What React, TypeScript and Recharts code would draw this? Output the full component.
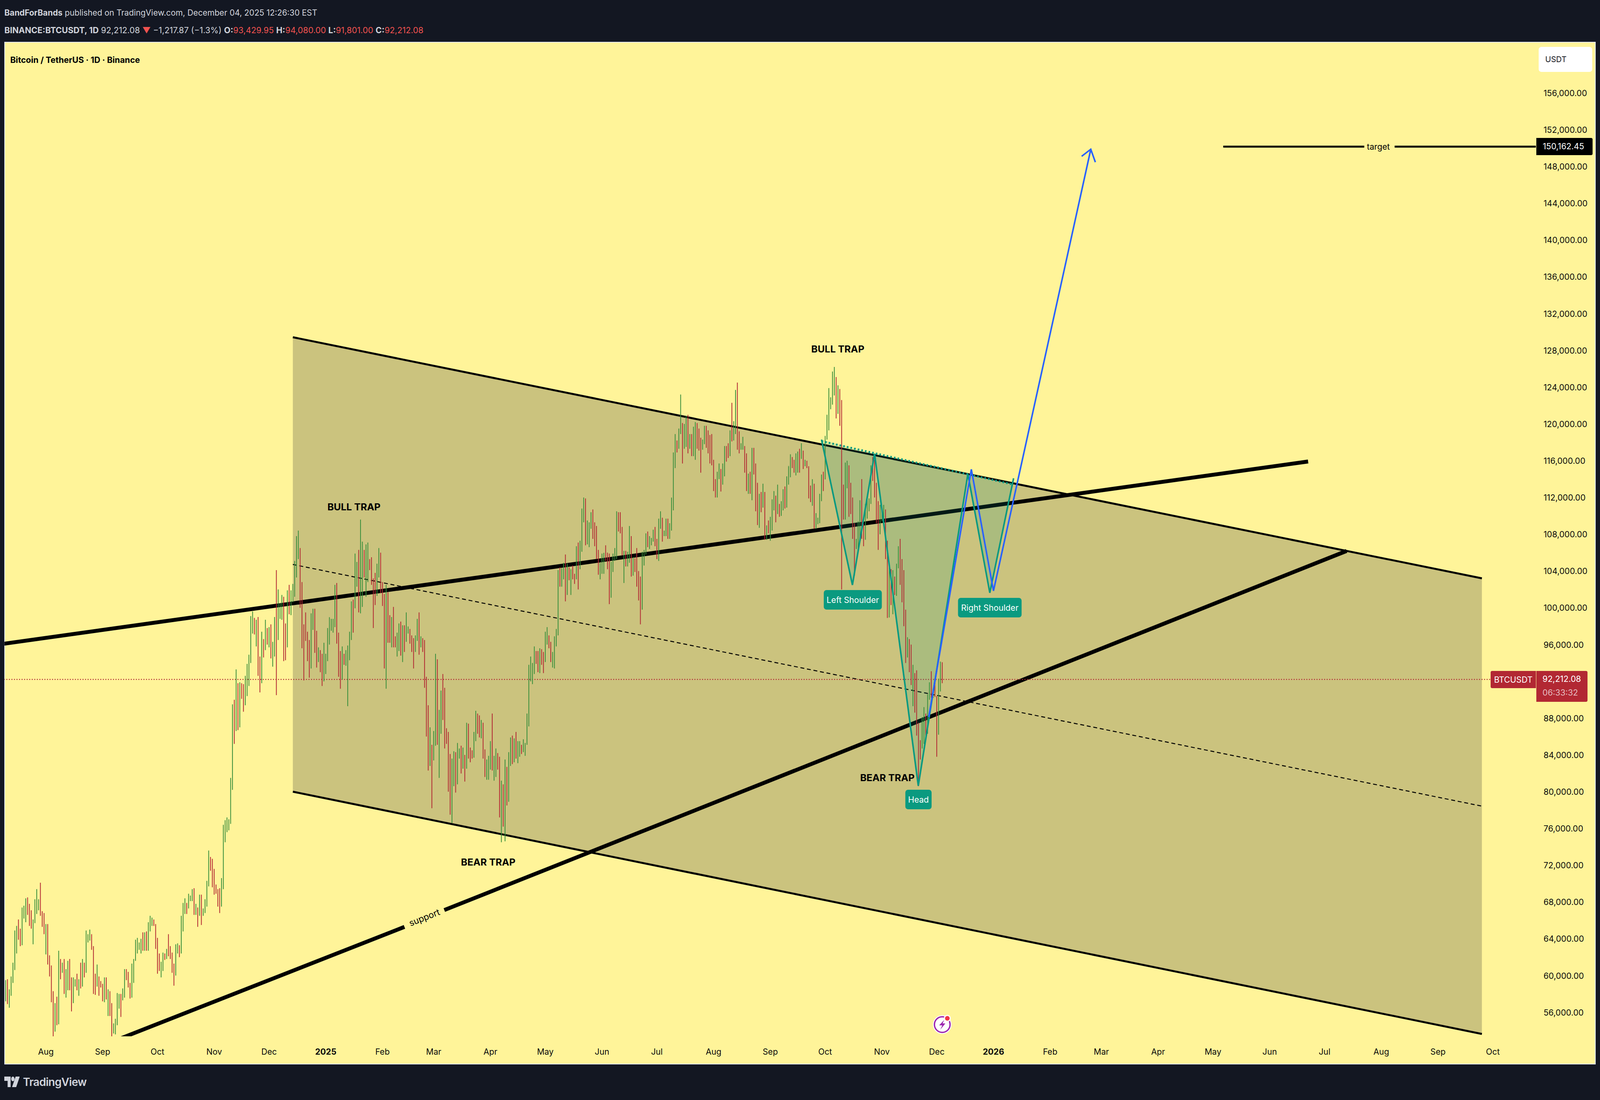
import React from 'react';
import { ComposedChart, Bar, Line, Area, XAxis, YAxis, ReferenceDot } from 'recharts';

// daily BTCUSDT candles, thousands of USDT, first row is 10 Jul 2024 (day -22, day 0 = 1 Aug 2024)
const FIRST_DAY = -22;

const opens: number[] = [
  57.7,58.0,57.3,57.9,59.2,60.8,64.7,65.0,64.1,63.9,66.7,67.1,68.2,67.5,65.9,65.4,65.8,67.9,68.0,68.2,66.8,66.2,
  64.6,65.4,61.4,60.7,58.1,54.0,56.0,55.0,61.7,60.8,60.9,58.7,59.3,60.6,58.7,57.5,58.9,59.5,58.4,59.5,59.0,61.2,60.4,64.0,64.2,64.3,62.9,59.5,59.0,59.4,59.1,
  58.97,57.3,59.1,57.5,57.97,56.2,53.95,54.2,54.9,57.3,57.6,57.3,58.1,60.5,60.0,59.1,58.2,60.3,61.6,62.9,63.2,63.3,63.6,63.3,64.3,63.1,65.2,65.8,65.9,65.6,
  63.3,60.8,60.6,60.75,62.1,62.05,62.8,62.2,62.1,60.6,60.3,62.4,63.2,62.85,66.0,67.0,67.6,67.4,68.4,68.4,69.0,67.4,67.4,66.6,68.2,66.6,67.0,68.0,69.9,72.7,72.3,
  70.3,69.5,69.3,68.7,67.8,69.4,75.6,75.9,76.5,76.7,80.4,88.7,87.9,90.5,87.4,91.1,90.6,89.8,90.5,92.3,94.3,98.3,98.9,97.8,98.0,93.0,91.96,95.96,95.6,97.5,
  96.4,97.2,95.9,96.0,98.6,97.0,99.9,99.9,101.1,97.3,96.6,101.1,100.0,101.4,101.4,104.4,106.0,106.1,100.2,97.5,97.3,97.2,95.2,94.9,98.7,99.4,95.8,94.2,95.2,93.6,92.8,
  93.6,94.6,96.9,98.1,98.2,98.3,102.1,96.9,95.0,92.5,94.7,94.5,94.5,94.5,96.5,100.5,99.99,104.1,104.4,101.3,102.0,106.1,103.7,103.9,104.8,104.7,102.6,102.1,101.3,103.7,104.7,
  102.4,100.6,97.7,101.3,97.8,96.6,96.6,96.5,96.4,96.5,97.4,95.7,97.9,96.6,97.5,97.6,96.1,95.8,95.5,96.6,98.3,96.1,96.6,96.3,91.6,88.6,83.9,84.7,
  84.35,86.0,94.3,86.1,87.2,90.6,89.9,86.7,86.2,80.7,78.6,82.9,83.7,81.1,83.98,84.3,82.6,84.0,82.7,86.9,84.2,84.0,83.8,86.1,87.5,87.4,86.9,87.2,84.4,82.4,82.4,
  82.5,85.2,82.5,83.1,83.8,83.5,78.4,79.1,76.3,82.6,79.6,83.4,85.3,83.7,84.5,83.6,84.0,84.9,84.5,85.1,85.2,87.5,93.4,93.7,93.9,94.7,94.6,93.8,94.9,94.3,
  94.2,96.5,96.9,95.9,94.3,94.7,96.8,97.0,103.3,103.0,104.1,104.2,102.8,104.2,103.5,103.8,103.5,103.1,106.5,105.6,106.8,109.6,111.7,107.3,107.8,109.0,109.4,108.9,107.8,105.6,103.98,
  104.6,105.7,105.9,105.4,104.7,101.6,104.4,105.6,105.7,110.3,110.2,108.6,105.9,106.0,105.4,105.6,106.8,104.6,104.9,104.6,103.3,102.1,100.96,105.4,106.0,107.3,107.0,107.1,107.3,108.4,
  107.1,105.7,108.8,109.6,108.0,108.2,109.2,108.3,108.95,111.3,115.9,117.5,117.4,119.1,120.0,117.8,118.6,119.2,117.6,118.0,117.3,117.4,119.95,118.8,118.4,117.6,117.9,119.4,118.1,117.9,117.8,
  115.8,113.3,112.5,114.2,115.0,114.1,115.0,117.5,116.7,116.5,119.3,118.7,120.2,123.3,118.3,117.4,117.5,117.5,116.2,112.9,114.3,112.5,116.9,115.4,113.5,110.1,111.8,111.3,112.6,108.4,108.8,
  108.2,109.2,111.2,112.1,110.7,110.7,110.2,111.2,112.1,111.5,113.96,115.5,116.0,115.95,115.3,115.3,116.8,116.5,117.0,115.6,115.7,115.3,112.7,112.0,113.3,108.99,109.6,109.6,112.2,114.4,
  114.0,118.6,120.5,122.2,122.4,123.5,124.7,121.4,123.3,121.7,113.0,110.8,115.2,115.3,113.0,110.8,108.2,106.4,107.2,108.7,110.5,108.4,107.6,110.1,111.0,111.6,114.6,114.1,113.0,110.0,108.3,
  109.6,110.1,110.5,106.6,101.5,103.9,101.3,103.3,102.3,104.7,106.0,103.1,101.7,99.7,94.6,95.6,94.3,92.2,92.7,91.5,86.6,85.1,84.7,86.8,88.3,87.4,90.5,91.3,90.9,90.9,
  90.4,86.3,91.3,93.43,
];

const highs: number[] = [
  59.5,59.6,58.5,59.9,61.4,64.9,65.4,66.1,65.1,67.4,67.6,68.4,68.5,67.8,67.1,66.1,68.3,69.4,68.3,70.1,67.0,66.8,
  65.6,65.6,62.2,61.1,58.3,57.0,57.7,62.7,61.8,61.4,61.8,60.7,61.6,61.8,59.8,59.8,59.6,60.2,59.6,61.4,61.8,61.4,64.9,64.5,65.0,64.5,63.2,60.2,61.2,59.9,59.4,
  59.1,59.8,59.8,58.5,58.3,57.0,54.8,55.3,58.1,58.0,58.0,58.6,60.7,60.7,60.4,59.2,61.3,61.8,63.9,64.1,63.6,64.0,64.7,64.7,64.8,65.8,66.5,66.3,66.1,65.6,
  64.1,62.4,61.5,62.5,62.4,62.9,64.5,63.2,62.5,61.3,63.4,63.5,63.3,66.5,67.9,68.4,67.9,68.9,68.7,69.4,69.5,67.8,67.4,68.8,68.8,67.3,68.3,70.3,73.6,72.9,72.7,
  71.6,69.9,69.4,69.5,70.6,76.4,76.9,77.2,77.0,81.5,89.5,90.0,93.3,91.8,91.9,91.8,91.7,92.6,93.9,94.9,99.1,99.6,98.9,98.7,99.0,94.7,97.4,96.6,98.7,97.8,
  97.9,98.2,96.3,99.0,104.1,102.0,100.5,101.4,101.2,98.3,101.9,102.5,101.9,102.6,105.1,107.8,108.4,106.5,102.8,98.2,99.5,97.4,96.5,99.4,99.9,99.9,97.5,95.7,95.4,95.0,96.2,
  95.0,97.8,98.98,98.8,98.8,102.5,102.7,97.3,95.3,95.8,95.0,95.4,95.9,97.4,100.7,100.9,105.9,104.99,106.3,109.6,107.2,106.3,106.9,107.1,105.3,105.5,103.2,103.8,104.8,106.5,106.0,
  102.8,101.5,102.5,101.7,99.2,99.0,100.1,96.9,97.3,98.3,98.5,98.1,98.1,99.5,97.97,97.7,97.0,96.7,97.0,98.8,99.5,96.9,96.7,96.5,92.5,89.4,87.0,85.1,
  86.6,95.0,94.4,88.9,91.0,92.8,91.3,86.9,86.5,84.1,83.6,84.4,84.3,85.3,84.7,85.0,84.8,84.0,87.5,87.4,84.8,84.5,86.5,88.8,88.5,88.3,87.8,87.5,84.6,83.5,83.9,
  85.5,88.5,83.9,84.7,84.2,83.8,81.2,80.8,83.5,82.7,84.3,85.9,86.1,85.8,86.5,85.5,85.5,85.1,85.7,85.3,88.5,93.8,94.7,94.0,95.8,95.3,95.3,95.6,95.5,95.2,
  97.4,97.9,97.0,96.3,95.2,96.9,97.7,104.1,104.4,104.3,104.9,105.8,104.8,104.4,104.2,104.6,103.7,106.7,107.1,107.3,110.8,112.0,111.9,109.5,109.3,110.4,110.7,109.3,108.9,106.3,104.9,
  105.9,105.98,106.8,106.0,105.9,105.0,105.9,106.5,110.5,110.4,110.4,108.8,106.2,106.2,106.1,108.9,107.8,105.5,105.4,106.5,104.0,103.4,106.1,106.3,108.1,108.3,107.8,107.6,108.5,108.8,
  107.5,109.7,110.5,109.8,108.4,109.7,109.7,109.2,111.99,116.9,118.9,118.2,119.5,123.2,120.1,120.0,120.9,120.99,118.9,118.9,119.7,120.2,120.1,119.5,118.5,118.3,119.8,119.8,119.3,118.8,118.9,
  116.1,114.0,114.8,115.7,115.1,115.7,117.6,117.6,117.9,119.3,122.3,120.3,123.7,124.5,119.2,117.9,118.6,117.6,116.8,114.6,114.8,117.4,117.4,115.7,113.6,112.4,112.6,113.5,112.6,108.97,109.5,
  109.9,111.8,112.7,112.2,113.4,111.3,111.6,112.9,113.2,114.3,115.4,116.7,116.4,116.1,116.8,117.0,117.3,117.9,117.1,116.1,116.0,115.4,113.3,113.99,113.5,110.3,109.8,112.4,114.5,114.8,
  118.7,121.0,123.9,122.9,125.7,126.2,125.1,124.2,123.8,122.6,113.4,115.8,116.0,115.5,113.6,112.0,109.2,107.5,109.4,111.7,114.0,109.1,111.3,112.0,111.9,115.5,116.4,116.1,113.6,111.6,111.2,
  110.6,111.2,110.7,107.3,104.5,104.2,104.1,103.4,104.8,106.7,107.5,105.3,104.1,99.8,96.8,96.6,96.0,93.8,92.9,93.2,87.5,85.6,88.1,89.2,88.5,90.6,91.9,93.1,91.2,92.0,
  90.4,92.3,94.15,94.08,
];

const lows: number[] = [
  57.2,56.9,56.5,57.8,59.2,60.6,62.4,63.9,63.2,63.3,66.2,65.8,66.6,65.4,65.1,63.4,65.7,66.7,67.1,66.5,65.3,64.5,
  62.3,61.2,59.9,57.1,49.0,53.9,54.6,54.7,59.6,60.3,58.0,57.6,58.4,58.4,56.1,57.0,58.8,58.4,57.8,58.6,58.8,59.8,60.3,63.6,63.8,62.8,58.0,57.9,58.8,57.8,58.7,
  57.2,57.1,57.4,55.6,55.6,52.5,53.7,53.6,54.6,56.4,55.5,57.3,57.6,59.5,58.7,57.5,57.6,59.2,61.6,62.4,62.8,62.4,62.7,62.7,62.7,62.7,64.8,65.4,65.4,62.9,
  60.2,60.5,59.8,60.5,61.7,61.8,62.1,61.8,60.3,58.9,60.0,62.4,62.0,62.4,64.8,66.7,66.7,67.3,68.1,68.1,66.6,66.6,65.3,66.5,65.5,66.5,66.8,67.5,69.7,71.4,69.6,
  68.8,68.9,67.5,66.8,67.5,69.4,74.5,75.6,75.8,76.5,80.2,85.2,86.6,86.7,87.0,90.1,88.7,89.4,90.4,91.5,94.0,97.2,97.1,95.8,92.6,90.8,91.8,94.6,95.4,96.0,
  95.7,94.5,93.6,94.7,90.5,96.5,98.8,98.7,94.2,94.3,95.7,99.3,99.2,100.6,101.2,103.3,105.3,100.0,95.6,92.1,96.4,94.2,92.4,93.4,97.6,95.1,93.5,94.1,93.0,91.5,92.0,
  92.8,94.2,96.0,97.5,97.3,97.9,96.1,92.5,91.2,92.2,93.8,93.7,89.3,94.3,96.5,97.3,99.95,102.3,99.5,99.4,100.1,103.3,101.2,102.8,104.1,102.5,97.8,100.3,101.3,103.3,101.6,
  100.2,93.4,91.2,96.2,96.2,95.7,95.7,95.7,94.7,95.3,94.8,94.1,95.2,96.3,97.2,96.1,95.2,93.4,95.2,96.4,94.9,95.7,95.2,91.3,86.0,82.3,82.8,78.2,
  83.4,85.0,85.1,81.5,86.3,87.8,84.7,85.2,80.0,77.5,76.6,80.6,79.9,80.8,83.6,81.98,82.5,81.1,82.5,83.6,83.2,83.6,83.7,85.5,86.3,85.9,85.8,83.6,81.6,81.3,81.3,
  82.4,82.3,81.2,81.6,82.4,77.2,74.5,76.2,74.6,78.5,78.9,82.8,83.0,83.2,83.6,83.1,83.8,84.1,84.3,83.9,85.1,87.1,92.0,91.7,92.8,93.9,93.0,92.9,93.8,92.9,
  94.1,96.0,95.6,94.1,93.5,93.4,95.8,97.0,102.3,102.3,103.1,100.7,101.4,103.0,101.4,103.1,102.6,103.1,102.0,104.2,106.1,109.3,106.8,106.9,106.6,108.6,107.5,106.7,105.3,103.6,103.1,
  103.7,103.7,105.1,104.2,100.4,101.1,103.9,105.1,105.3,108.3,108.1,105.7,102.7,104.5,104.5,104.9,103.4,103.5,103.9,102.3,100.8,98.2,99.8,104.6,105.8,106.6,106.4,106.8,107.2,106.7,
  105.3,105.1,108.6,107.2,107.8,107.8,107.5,107.5,108.4,110.6,115.2,116.9,117.3,118.9,115.7,117.3,117.5,116.8,117.3,116.5,116.5,116.1,117.3,117.1,114.7,117.2,117.8,117.4,116.8,115.7,115.5,
  112.7,112.0,112.0,114.0,112.65,113.4,114.3,115.9,116.3,116.5,118.1,118.2,118.9,117.2,116.8,117.2,117.2,114.7,112.7,112.4,112.4,111.7,114.5,110.5,109.0,108.7,110.4,110.9,107.4,107.4,108.1,
  107.3,108.4,110.6,109.3,110.2,109.9,110.0,110.6,110.8,110.9,113.4,114.2,115.2,114.7,114.4,114.7,114.7,116.2,115.1,115.4,115.2,111.9,111.5,111.1,108.6,108.6,109.1,109.2,111.6,112.7,
  113.97,118.3,119.3,121.6,122.1,123.1,120.6,121.1,119.8,102.0,109.6,109.6,113.0,109.9,110.2,107.5,103.5,106.4,106.1,107.5,107.5,106.7,107.4,109.7,110.5,111.3,113.8,112.0,109.2,106.3,108.0,
  109.4,109.5,105.3,98.9,98.95,100.3,99.3,101.4,101.3,104.3,102.5,100.6,98.0,94.0,94.6,93.0,91.6,89.3,88.6,86.1,80.6,83.5,84.7,85.2,86.1,86.3,90.0,90.2,90.2,90.3,
  83.8,86.2,90.9,91.8,
];

const closes: number[] = [
  58.0,57.3,57.9,59.2,60.8,64.7,65.0,64.1,63.9,66.7,67.1,68.2,67.5,65.9,65.4,65.8,67.9,68.0,68.2,66.8,66.2,64.6,
  65.4,61.4,60.7,58.1,54.0,56.0,55.0,61.7,60.8,60.9,58.7,59.3,60.6,58.7,57.5,58.9,59.5,58.4,59.5,59.0,61.2,60.4,64.0,64.2,64.3,62.9,59.5,59.0,59.4,59.1,58.97,
  57.3,59.1,57.5,57.97,56.2,53.95,54.2,54.9,57.3,57.6,57.3,58.1,60.5,60.0,59.1,58.2,60.3,61.6,62.9,63.2,63.3,63.6,63.3,64.3,63.1,65.2,65.8,65.9,65.6,63.3,
  60.8,60.6,60.75,62.1,62.05,62.8,62.2,62.1,60.6,60.3,62.4,63.2,62.85,66.0,67.0,67.6,67.4,68.4,68.4,69.0,67.4,67.4,66.6,68.2,66.6,67.0,68.0,69.9,72.7,72.3,70.3,
  69.5,69.3,68.7,67.8,69.4,75.6,75.9,76.5,76.7,80.4,88.7,87.9,90.5,87.4,91.1,90.6,89.8,90.5,92.3,94.3,98.3,98.9,97.8,98.0,93.0,91.96,95.96,95.6,97.5,96.4,
  97.2,95.9,96.0,98.6,97.0,99.9,99.9,101.1,97.3,96.6,101.1,100.0,101.4,101.4,104.4,106.0,106.1,100.2,97.5,97.3,97.2,95.2,94.9,98.7,99.4,95.8,94.2,95.2,93.6,92.8,93.6,
  94.6,96.9,98.1,98.2,98.3,102.1,96.9,95.0,92.5,94.7,94.5,94.5,94.5,96.5,100.5,99.99,104.1,104.4,101.3,102.0,106.1,103.7,103.9,104.8,104.7,102.6,102.1,101.3,103.7,104.7,102.4,
  100.6,97.7,101.3,97.8,96.6,96.6,96.5,96.4,96.5,97.4,95.7,97.9,96.6,97.5,97.6,96.1,95.8,95.5,96.6,98.3,96.1,96.6,96.3,91.6,88.6,83.9,84.7,84.35,
  86.0,94.3,86.1,87.2,90.6,89.9,86.7,86.2,80.7,78.6,82.9,83.7,81.1,83.98,84.3,82.6,84.0,82.7,86.9,84.2,84.0,83.8,86.1,87.5,87.4,86.9,87.2,84.4,82.4,82.4,82.5,
  85.2,82.5,83.1,83.8,83.5,78.4,79.1,76.3,82.6,79.6,83.4,85.3,83.7,84.5,83.6,84.0,84.9,84.5,85.1,85.2,87.5,93.4,93.7,93.9,94.7,94.6,93.8,94.9,94.3,94.2,
  96.5,96.9,95.9,94.3,94.7,96.8,97.0,103.3,103.0,104.1,104.2,102.8,104.2,103.5,103.8,103.5,103.1,106.5,105.6,106.8,109.6,111.7,107.3,107.8,109.0,109.4,108.9,107.8,105.6,103.98,104.6,
  105.7,105.9,105.4,104.7,101.6,104.4,105.6,105.7,110.3,110.2,108.6,105.9,106.0,105.4,105.6,106.8,104.6,104.9,104.6,103.3,102.1,100.96,105.4,106.0,107.3,107.0,107.1,107.3,108.4,107.1,
  105.7,108.8,109.6,108.0,108.2,109.2,108.3,108.95,111.3,115.9,117.5,117.4,119.1,120.0,117.8,118.6,119.2,117.6,118.0,117.3,117.4,119.95,118.8,118.4,117.6,117.9,119.4,118.1,117.9,117.8,115.8,
  113.3,112.5,114.2,115.0,114.1,115.0,117.5,116.7,116.5,119.3,118.7,120.2,123.3,118.3,117.4,117.5,117.5,116.2,112.9,114.3,112.5,116.9,115.4,113.5,110.1,111.8,111.3,112.6,108.4,108.8,108.2,
  109.2,111.2,112.1,110.7,110.7,110.2,111.2,112.1,111.5,113.96,115.5,116.0,115.95,115.3,115.3,116.8,116.5,117.0,115.6,115.7,115.3,112.7,112.0,113.3,108.99,109.6,109.6,112.2,114.4,114.0,
  118.6,120.5,122.2,122.4,123.5,124.7,121.4,123.3,121.7,113.0,110.8,115.2,115.3,113.0,110.8,108.2,106.4,107.2,108.7,110.5,108.4,107.6,110.1,111.0,111.6,114.6,114.1,113.0,110.0,108.3,109.6,
  110.1,110.5,106.6,101.5,103.9,101.3,103.3,102.3,104.7,106.0,103.1,101.7,99.7,94.6,95.6,94.3,92.2,92.7,91.5,86.6,85.1,84.7,86.8,88.3,87.4,90.5,91.3,90.9,90.9,90.4,
  86.3,91.3,93.4,92.21,
];

// 92,000 sits under the last-price tag in the picture, so it has no label
const priceTicks = [56000,60000,64000,68000,72000,76000,80000,84000,88000,96000,100000,104000,108000,112000,116000,120000,124000,128000,132000,136000,140000,144000,148000,152000,156000];
const monthDays = [0,31,61,92,122,153,184,212,243,273,304,334,365,396,426,457,487,518,549,577,608,638,669,699,730,761,791];
const monthLabels = ['Aug','Sep','Oct','Nov','Dec','2025','Feb','Mar','Apr','May','Jun','Jul','Aug','Sep','Oct','Nov','Dec','2026','Feb','Mar','Apr','May','Jun','Jul','Aug','Sep','Oct'];

// drawings, [day, price]
const channelBand = [
  { d: 135, band: [80001, 129433] },
  { d: 785, band: [53648, 103208] },
];
const channelTop = [{ d: 135, v: 129433 }, { d: 785, v: 103208 }];
const channelBottom = [{ d: 135, v: 80001 }, { d: 785, v: 53648 }];
const channelMid = [{ d: 135, v: 104717 }, { d: 785, v: 78428 }];
const resistance = [{ d: -30, v: 95897 }, { d: 690, v: 115917 }];
const supportLow = [{ d: 40, v: 53096 }, { d: 196, v: 65294 }];
const supportHigh = [{ d: 217.8, v: 67122 }, { d: 711, v: 106183 }];
const targetLeft = [{ d: 643.6, v: 150162.45 }, { d: 720.7, v: 150162.45 }];
const targetRight = [{ d: 737.3, v: 150162.45 }, { d: 815, v: 150162.45 }];
const lastPrice = [{ d: -23, v: 92212.08 }, { d: 789.5, v: 92212.08 }];
const hsLine = [
  { d: 424, v: 118297 }, { d: 440.9, v: 102485 }, { d: 453, v: 116767 }, { d: 476.9, v: 80638 },
  { d: 504, v: 114556 }, { d: 516, v: 101635 }, { d: 529, v: 114089 },
];
const neckline = [{ d: 424, v: 118127 }, { d: 528, v: 113452 }];
const hsFill = [
  { d: 424, band: [118127, 118297] }, { d: 440.9, band: [102485, 117362] }, { d: 453, band: [116767, 116809] },
  { d: 476.9, band: [80638, 115747] }, { d: 504, band: [114527, 114556] }, { d: 516, band: [101635, 113987] },
  { d: 528, band: [113452, 113452] },
];
const projection = [{ d: 482.6, v: 88118 }, { d: 505.9, v: 115067 }, { d: 518, v: 101848 }, { d: 571.2, v: 149877 }];
const arrowHead = [{ d: 566.2, v: 149112 }, { d: 571.2, v: 149877 }, { d: 573.7, v: 148475 }];

const trapLabels = [
  { text: 'BULL TRAP', d: 168.4, v: 110986 },
  { text: 'BULL TRAP', d: 432.9, v: 128158 },
  { text: 'BEAR TRAP', d: 241.8, v: 72351 },
  { text: 'BEAR TRAP', d: 460, v: 81531 },
];
const pills = [
  { text: 'Left Shoulder', d: 441.1, v: 100870, w: 210 },
  { text: 'Right Shoulder', d: 516, v: 100020, w: 230 },
  { text: 'Head', d: 477, v: 79151, w: 95 },
];

// the browser window is really 4096 wide, so horizontal sizes are measured on the
// 5787 wide reference and squeezed by sx()
const PAGE_W = 4096;
const PAGE_H = 2815;
const SX = PAGE_W / 5787;
const sx = (n: number) => n * SX;
const FONT = 'Inter, sans-serif';
const AXIS_FONT = 21.2;
const GREEN = '#388E3C';
const RED = '#B22833';
const TEAL = '#089981';
const BLUE = '#2962FF';
const PANE = '#FFF499';

const candles = closes.map((c, i) => ({
  d: FIRST_DAY + i,
  open: opens[i] * 1000,
  high: highs[i] * 1000,
  low: lows[i] * 1000,
  close: c * 1000,
}));

const Candle = (props: any) => {
  const { x, y, width, height, payload } = props;
  const { open, close, high, low } = payload;
  const px = (v: number) => y + ((high - v) / (high - low)) * height;
  const color = close >= open ? GREEN : RED;
  const top = px(Math.max(open, close));
  const bodyH = Math.max(px(Math.min(open, close)) - top, 2);
  return (
    <g>
      <rect x={x + width / 2 - 1} y={y} width={2} height={height} fill={color} />
      <rect x={x} y={top} width={width} height={bodyH} fill={color} />
    </g>
  );
};

const PriceTick = ({ x, y, payload }: any) => (
  <text x={x + sx(25)} y={y} dy={8} fontSize={AXIS_FONT} fontFamily={FONT} fill="#0b0b0b" textAnchor="start">
    {payload.value.toLocaleString('en-US', { minimumFractionDigits: 2 })}
  </text>
);

const MonthTick = ({ x, y, payload }: any) => {
  const label = monthLabels[monthDays.indexOf(payload.value)];
  const bold = label === '2025' || label === '2026';
  return (
    <text x={x} y={y} dy={45} fontSize={AXIS_FONT} fontFamily={FONT} fontWeight={bold ? 700 : 400} fill="#0b0b0b" textAnchor="middle">
      {label}
    </text>
  );
};

const trendLine = (data: any[], color: string, width: number, z: number, dash?: string) => (
  <Line
    data={data}
    dataKey="v"
    type="linear"
    stroke={color}
    strokeWidth={width}
    strokeDasharray={dash}
    dot={false}
    activeDot={false}
    isAnimationActive={false}
    zIndex={z}
  />
);

const dotShape = (render: (cx: number, cy: number) => React.ReactElement) => (p: any) => render(p.cx, p.cy);

export default function App() {
  return (
    <div style={{ position: 'absolute', left: 0, top: 0, width: PAGE_W, height: PAGE_H, background: '#131722', fontFamily: FONT, overflow: 'hidden' }}>
      {/* publish header */}
      <div style={{ position: 'absolute', left: sx(16), top: 14, fontSize: 20.8, lineHeight: '38px', color: '#D1D4DC', whiteSpace: 'nowrap' }}>
        <b>BandForBands</b> published on TradingView.com, December 04, 2025 12:26:30 EST
      </div>
      <div style={{ position: 'absolute', left: sx(16), top: 58, fontSize: 21.4, lineHeight: '38px', color: '#D1D4DC', whiteSpace: 'nowrap' }}>
        <b>BINANCE:BTCUSDT, 1D</b> 92,212.08 <span style={{ color: '#F0524F' }}>▼</span> −1,217.87 (−1.3%) <b>O:</b>
        <span style={{ color: '#F0524F' }}>93,429.95</span> <b>H:</b><span style={{ color: '#F0524F' }}>94,080.00</span> <b>L:</b>
        <span style={{ color: '#F0524F' }}>91,801.00</span> <b>C:</b><span style={{ color: '#F0524F' }}>92,212.08</span>
      </div>

      {/* chart pane */}
      <div style={{ position: 'absolute', left: sx(15), top: 107, width: sx(5757), height: 2617, background: PANE, border: '2px solid #E4E7EE', boxSizing: 'border-box' }} />
      <div style={{ position: 'absolute', left: sx(37), top: 136, fontSize: 21.4, lineHeight: '34px', fontWeight: 700, color: '#000', whiteSpace: 'nowrap' }}>
        Bitcoin / TetherUS · 1D · Binance
      </div>

      <div style={{ position: 'absolute', left: 0, top: 0 }}>
        <ComposedChart
          width={PAGE_W}
          height={PAGE_H}
          data={candles}
          margin={{ top: 108, left: sx(16), right: sx(15), bottom: 91 }}
        >
          <XAxis
            dataKey="d"
            type="number"
            domain={[-22.67, 814.5]}
            allowDataOverflow
            ticks={monthDays}
            interval={0}
            height={72}
            axisLine={false}
            tickLine={false}
            tickSize={0}
            tick={<MonthTick />}
          />
          <YAxis
            orientation="right"
            type="number"
            domain={[53392, 161524]}
            allowDataOverflow
            ticks={priceTicks}
            interval={0}
            width={sx(217)}
            axisLine={false}
            tickLine={false}
            tickSize={0}
            tick={<PriceTick />}
          />

          <Area data={channelBand} dataKey="band" type="linear" stroke="none" fill="#CBC37E" fillOpacity={1} dot={false} activeDot={false} isAnimationActive={false} zIndex={100} />
          {trendLine(channelTop, '#000', 5, 110)}
          {trendLine(channelBottom, '#000', 5, 110)}
          {trendLine(channelMid, '#000', 2.5, 110, '10 7')}
          {trendLine(resistance, '#000', 10, 110)}
          {trendLine(supportLow, '#000', 10, 110)}
          {trendLine(supportHigh, '#000', 10, 110)}
          {trendLine(targetLeft, '#000', 5, 110)}
          {trendLine(targetRight, '#000', 5, 110)}
          {trendLine(lastPrice, RED, 2.5, 110, '2.5 4')}
          <Area data={hsFill} dataKey="band" type="linear" stroke="none" fill={TEAL} fillOpacity={0.16} dot={false} activeDot={false} isAnimationActive={false} zIndex={120} />

          <Bar dataKey={(r: any) => [r.low, r.high]} barSize={4} shape={<Candle />} isAnimationActive={false} zIndex={300} />

          {trendLine(neckline, TEAL, 5, 400, '4 5.5')}
          {trendLine(hsLine, TEAL, 4, 400)}
          {trendLine(projection, BLUE, 4, 410)}
          {trendLine(arrowHead, BLUE, 4, 410)}

          {trapLabels.map((t, i) => (
            <ReferenceDot
              key={`trap-${i}`}
              x={t.d}
              y={t.v}
              r={0}
              ifOverflow="visible"
              shape={dotShape((cx, cy) => (
                <text x={cx} y={cy} dy={9} textAnchor="middle" fontFamily={FONT} fontWeight={700} fontSize={24.8} fill="#000">{t.text}</text>
              ))}
            />
          ))}
          {pills.map((p) => (
            <ReferenceDot
              key={p.text}
              x={p.d}
              y={p.v}
              r={0}
              ifOverflow="visible"
              shape={dotShape((cx, cy) => (
                <g>
                  <rect x={cx - sx(p.w) / 2} y={cy - 25} width={sx(p.w)} height={50} rx={7} fill="#0A9A80" />
                  <text x={cx} y={cy} dy={8} textAnchor="middle" fontFamily={FONT} fontSize={AXIS_FONT} fill="#fff">{p.text}</text>
                </g>
              ))}
            />
          ))}
          <ReferenceDot
            x={206.9}
            y={66314}
            r={0}
            ifOverflow="visible"
            shape={dotShape((cx, cy) => (
              <text transform={`translate(${cx},${cy}) rotate(-21.6)`} dy={8} textAnchor="middle" fontFamily={FONT} fontSize={22.6} fill="#000">support</text>
            ))}
          />
          <ReferenceDot
            x={728.4}
            y={150162.45}
            r={0}
            ifOverflow="visible"
            shape={dotShape((cx, cy) => (
              <text x={cx} y={cy} dy={8} textAnchor="middle" fontFamily={FONT} fontSize={AXIS_FONT} fill="#000">target</text>
            ))}
          />
          {/* marker under the last bar */}
          <ReferenceDot
            x={490}
            y={54668}
            r={0}
            ifOverflow="visible"
            shape={dotShape((cx, cy) => (
              <g>
                <circle cx={cx} cy={cy} r={24} fill="#fff" />
                <circle cx={cx} cy={cy} r={20} fill="#fff" stroke="#9C27B0" strokeWidth={3.5} />
                <path d={`M${cx + 5} ${cy - 12} L${cx - 8} ${cy + 2} L${cx} ${cy + 2} L${cx - 5} ${cy + 13} L${cx + 8} ${cy - 3} L${cx + 1} ${cy - 3} Z`} fill="#9C27B0" />
                <circle cx={cx + 13} cy={cy - 16} r={9} fill="#fff" />
                <circle cx={cx + 13} cy={cy - 16} r={6} fill="#F23645" />
              </g>
            ))}
          />
        </ComposedChart>
      </div>

      {/* price scale tags */}
      <div style={{ position: 'absolute', left: sx(5565), top: 120, width: sx(194), height: 64, borderRadius: 7, background: '#fff', fontSize: 20, lineHeight: '64px', color: '#131722', paddingLeft: sx(24), boxSizing: 'border-box' }}>USDT</div>
      <div style={{ position: 'absolute', left: sx(5557), top: 353, width: sx(203), height: 44, borderRadius: '0 4px 4px 0', background: '#000', color: '#fff', fontSize: AXIS_FONT, lineHeight: '42px', paddingLeft: sx(23), boxSizing: 'border-box' }}>150,162.45</div>
      <div style={{ position: 'absolute', left: sx(5392), top: 1717, width: sx(163), height: 44, borderRadius: '4px 0 0 4px', background: RED, color: '#fff', fontSize: AXIS_FONT, lineHeight: '44px', textAlign: 'center' }}>BTCUSDT</div>
      <div style={{ position: 'absolute', left: sx(5557), top: 1717, width: sx(185), height: 79, borderRadius: '0 4px 4px 0', background: RED, color: '#fff', fontSize: AXIS_FONT, lineHeight: '35px', paddingLeft: sx(22), paddingTop: 3, boxSizing: 'border-box' }}>
        92,212.08
        <div style={{ color: 'rgba(255,255,255,0.7)' }}>06:33:32</div>
      </div>

      {/* footer logo */}
      <svg style={{ position: 'absolute', left: sx(15), top: 2755 }} width={sx(56)} height={27} viewBox="0 0 56 27" preserveAspectRatio="none">
        <path d="M0 0 H23 V27 H12 V11 H0 Z" fill="#D1D4DC" />
        <circle cx={31} cy={6} r={6} fill="#D1D4DC" />
        <path d="M41 0 H56 L43 27 H28 Z" fill="#D1D4DC" />
      </svg>
      <div style={{ position: 'absolute', left: sx(83), top: 2747, fontSize: 28, lineHeight: '44px', fontWeight: 600, letterSpacing: -0.7, color: '#D1D4DC', whiteSpace: 'nowrap' }}>TradingView</div>
    </div>
  );
}
